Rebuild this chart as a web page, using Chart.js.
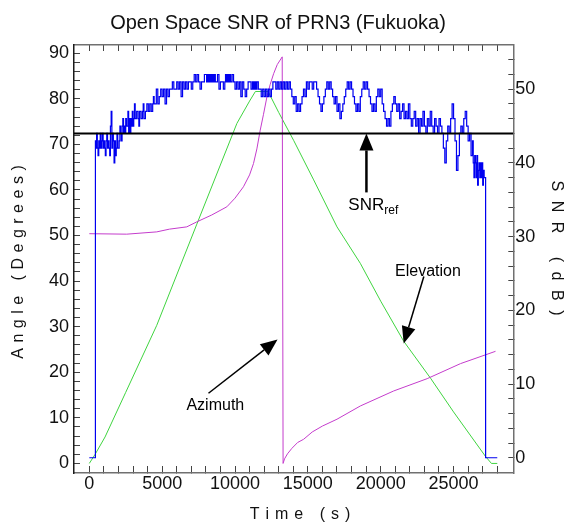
<!DOCTYPE html>
<html>
<head>
<meta charset="utf-8">
<script src="https://cdn.jsdelivr.net/npm/chart.js@4/dist/chart.umd.min.js"></script>
<style>
  html, body { margin: 0; padding: 0; background: #fff; }
  #wrap { width: 568px; height: 527px; }
</style>
</head>
<body>
<div id="wrap"><canvas id="c" width="568" height="527"></canvas></div>
<script>
// ---- data ----
const xTicks = [0, 5000, 10000, 15000, 20000, 25000];
const angleTicks = [0, 10, 20, 30, 40, 50, 60, 70, 80, 90];
const snrTicks = [0, 10, 20, 30, 40, 50];

// elevation (deg), left axis
const elevTime = [0, 400, 1080, 2500, 4630, 7380, 10130, 11000, 11400, 12270, 13000, 14020, 15400, 17000, 18600, 20000, 21580, 23420, 25000, 27200, 27600, 28000];
const elevDeg  = [0, 2, 5.8, 15.6, 30.3, 52.5, 74.6, 79.5, 81.6, 81.6, 77, 70.9, 62.2, 51.9, 43.9, 35.6, 26.8, 18.7, 11.3, 1.5, 0, 0];

// azimuth (deg), left axis
const aziTime = [0, 2570, 4630, 5500, 6690, 7380, 8400, 9440, 10000, 10580, 11000, 11270, 11500, 11730, 11950, 12190, 12420, 12650, 12900, 13240, 13300, 13400, 13600, 13900, 14300, 14710, 15300, 16000, 17000, 18600, 20890, 23190, 25480, 27880];
const aziDeg  = [50.4, 50.3, 50.8, 51.4, 51.9, 53.0, 54.5, 56.3, 58.2, 60.7, 63.3, 65.8, 69.0, 73.1, 76.5, 80.4, 83.2, 85.5, 87.5, 89.2, 0, 1.0, 2.1, 3.3, 4.6, 5.3, 6.9, 8.2, 9.7, 12.6, 15.9, 18.6, 21.9, 24.6];

// SNR (dB), right axis
const snrTime = [0, 400, 420, 450, 500, 550, 600, 650, 700, 750, 800, 850, 900, 950, 1000, 1050, 1100, 1150, 1200, 1250, 1300, 1350, 1400, 1450, 1500, 1550, 1600, 1650, 1700, 1750, 1800, 1850, 1900, 1950, 2000, 2050, 2100, 2150, 2200, 2250, 2300, 2350, 2400, 2450, 2500, 2550, 2600, 2650, 2700, 2750, 2800, 2850, 2900, 2950, 3000, 3050, 3100, 3150, 3200, 3250, 3300, 3350, 3400, 3450, 3500, 3550, 3600, 3650, 3700, 3750, 3800, 3850, 3900, 3950, 4000, 4050, 4100, 4150, 4200, 4250, 4300, 4350, 4400, 4450, 4500, 4600, 4700, 4800, 4900, 5000, 5100, 5200, 5300, 5400, 5500, 5600, 5700, 5800, 5900, 6000, 6100, 6200, 6300, 6400, 6500, 6600, 6700, 6800, 6900, 7000, 7100, 7200, 7300, 7400, 7500, 7600, 7700, 7800, 7900, 8000, 8050, 8100, 8150, 8200, 8250, 8300, 8350, 8400, 8450, 8500, 8550, 8600, 8650, 8700, 8800, 8900, 9000, 9100, 9200, 9300, 9350, 9400, 9450, 9500, 9550, 9600, 9650, 9700, 9800, 9900, 10000, 10100, 10200, 10300, 10400, 10500, 10600, 10700, 10800, 10900, 11000, 11100, 11200, 11250, 11300, 11350, 11400, 11450, 11500, 11600, 11700, 11800, 11900, 12000, 12100, 12200, 12300, 12400, 12500, 12600, 12700, 12800, 12900, 13000, 13100, 13200, 13300, 13400, 13500, 13600, 13700, 13800, 13900, 14000, 14100, 14200, 14300, 14400, 14500, 14600, 14700, 14800, 14900, 15000, 15100, 15200, 15300, 15400, 15500, 15600, 15700, 15800, 15900, 16000, 16100, 16200, 16300, 16400, 16500, 16600, 16700, 16800, 16900, 17000, 17100, 17200, 17300, 17400, 17500, 17600, 17700, 17800, 17900, 18000, 18100, 18200, 18300, 18400, 18500, 18600, 18700, 18800, 18900, 19000, 19100, 19200, 19300, 19400, 19500, 19600, 19700, 19800, 19900, 20000, 20100, 20200, 20300, 20400, 20500, 20600, 20700, 20800, 20900, 21000, 21100, 21200, 21300, 21400, 21500, 21600, 21700, 21800, 21900, 22000, 22100, 22200, 22300, 22400, 22500, 22600, 22700, 22800, 22900, 23000, 23100, 23200, 23300, 23400, 23500, 23600, 23700, 23800, 23900, 24000, 24100, 24200, 24300, 24400, 24500, 24600, 24700, 24800, 24900, 25000, 25100, 25200, 25300, 25400, 25500, 25600, 25700, 25800, 25900, 26000, 26100, 26200, 26300, 26350, 26400, 26450, 26500, 26550, 26600, 26650, 26700, 26750, 26800, 26850, 26900, 26950, 27000, 27050, 27100, 27200, 28000];
const snrDb = [0, 0, 43, 42, 44, 42, 41, 43, 42, 44, 42, 43, 44, 42, 43, 42, 41, 43, 44, 42, 43, 42, 41, 45, 47, 42, 44, 43, 40, 43, 41, 42, 44, 42, 42, 43, 45, 44, 43, 45, 46, 44, 45, 44, 46, 45, 45, 47, 44, 46, 44, 46, 45, 47, 45, 46, 48, 46, 46, 47, 47, 46, 45, 47, 47, 46, 46, 47, 48, 46, 46, 47, 47, 48, 48, 47, 47, 48, 48, 47, 47, 48, 49, 48, 48, 50, 48, 49, 50, 49, 50, 48, 50, 49, 50, 50, 51, 50, 50, 51, 50, 51, 49, 51, 50, 51, 50, 51, 51, 50, 51, 52, 51, 52, 51, 50, 51, 51, 52, 52, 51, 52, 51, 52, 51, 52, 51, 52, 51, 52, 51, 52, 51, 51, 52, 50, 51, 51, 50, 51, 52, 51, 52, 51, 52, 51, 52, 51, 52, 51, 50, 51, 50, 51, 49, 51, 50, 49, 50, 51, 51, 50, 51, 50, 51, 50, 51, 50, 51, 50, 50, 49, 50, 49, 50, 49, 50, 49, 50, 51, 51, 50, 51, 50, 51, 50, 51, 50, 51, 50, 51, 50, 49, 48, 49, 47, 48, 47, 48, 49, 50, 49, 51, 50, 51, 51, 50, 51, 51, 50, 49, 48, 47, 48, 49, 50, 51, 50, 51, 50, 49, 48, 49, 47, 48, 46, 47, 48, 49, 50, 51, 50, 51, 50, 49, 48, 47, 48, 47, 49, 50, 51, 50, 51, 50, 49, 48, 47, 48, 47, 49, 50, 49, 50, 48, 47, 46, 45, 46, 45, 47, 48, 49, 48, 47, 48, 46, 47, 48, 46, 47, 46, 48, 46, 45, 46, 47, 45, 46, 44, 46, 45, 47, 45, 44, 46, 45, 47, 45, 44, 46, 45, 44, 46, 45, 44, 42, 40, 43, 45, 44, 46, 48, 46, 43, 39, 41, 44, 45, 44, 46, 47, 45, 43, 44, 41, 43, 40, 38, 41, 40, 38, 41, 37, 39, 40, 38, 40, 38, 40, 37, 39, 38, 0, 0];

// reference level SNRref (dB)
const refTime = [-1050, 29100];
const refDb = [44, 44];

// ---- layout ----
const FONT = "'Liberation Sans', Arial, Helvetica, sans-serif";
const AREA = { left: 74, right: 513.3, top: 45, bottom: 473 };
const W = 568, H = 527;

const pts = (xs, ys) => xs.map((x, i) => ({ x, y: ys[i] }));
const steps = (a, b, d) => { const r = []; for (let v = a; v <= b; v += d) r.push({ value: v }); return r; };

// text with extra letter spacing, centred on (cx, cy)
function spaced(ctx, text, cx, cy, gap) {
  const ws = [...text].map(ch => ctx.measureText(ch).width);
  const total = ws.reduce((a, b) => a + b, 0) + gap * (ws.length - 1);
  let x = cx - total / 2;
  ctx.textAlign = 'left';
  ctx.textBaseline = 'middle';
  [...text].forEach((ch, i) => { ctx.fillText(ch, x, cy); x += ws[i] + gap; });
}

function arrow(ctx, x1, y1, x2, y2, lw) {
  const a = Math.atan2(y2 - y1, x2 - x1);
  const hl = 17, hw = 7;
  const bx = x2 - hl * Math.cos(a), by = y2 - hl * Math.sin(a);
  ctx.lineWidth = lw;
  ctx.beginPath(); ctx.moveTo(x1, y1); ctx.lineTo(bx, by); ctx.stroke();
  ctx.beginPath();
  ctx.moveTo(x2, y2);
  ctx.lineTo(bx + hw * Math.sin(a), by - hw * Math.cos(a));
  ctx.lineTo(bx - hw * Math.sin(a), by + hw * Math.cos(a));
  ctx.closePath(); ctx.fill();
}

// annotations and titles
const notes = {
  id: 'notes',
  afterDraw(chart) {
    const ctx = chart.ctx;
    const x = chart.scales.x, yL = chart.scales.yL, yR = chart.scales.yR;
    ctx.save();
    ctx.fillStyle = '#000';
    ctx.strokeStyle = '#000';

    const sx = x.getPixelForValue(19020);
    arrow(ctx, sx, yR.getPixelForValue(36), sx, yR.getPixelForValue(44), 2.5);
    ctx.font = '17px ' + FONT;
    ctx.textAlign = 'left';
    ctx.textBaseline = 'alphabetic';
    const lx = x.getPixelForValue(17780), ly = yR.getPixelForValue(33.6);
    ctx.fillText('SNR', lx, ly);
    const sw = ctx.measureText('SNR').width;
    ctx.font = '12px ' + FONT;
    ctx.fillText('ref', lx + sw, ly + 4);

    arrow(ctx, x.getPixelForValue(22960), yL.getPixelForValue(41), x.getPixelForValue(21580), yL.getPixelForValue(26.3), 1.5);
    ctx.font = '16px ' + FONT;
    ctx.textAlign = 'center';
    ctx.fillText('Elevation', x.getPixelForValue(23240), yL.getPixelForValue(41.1));

    arrow(ctx, x.getPixelForValue(8180), yL.getPixelForValue(15.4), x.getPixelForValue(12920), yL.getPixelForValue(27.2), 1.5);
    ctx.fillText('Azimuth', x.getPixelForValue(8650), yL.getPixelForValue(11.7));

    ctx.fillStyle = '#111';
    ctx.font = '20px ' + FONT;
    ctx.textAlign = 'center';
    ctx.textBaseline = 'middle';
    ctx.fillText('Open Space SNR of PRN3 (Fukuoka)', 278, 23);

    ctx.font = '16px ' + FONT;
    spaced(ctx, 'Time (s)', 300, 515, 6);

    ctx.save();
    ctx.translate(19, 262);
    ctx.rotate(-Math.PI / 2);
    spaced(ctx, 'Angle (Degrees)', 0, 0, 5.5);
    ctx.restore();

    ctx.save();
    ctx.translate(556, 248);
    ctx.rotate(Math.PI / 2);
    spaced(ctx, 'SNR (dB)', 0, 0, 9.5);
    ctx.restore();
    ctx.restore();
  }
};

const tickFont = { family: FONT, size: 18 };
// inward tick marks: negative tick length, no grid lines across the plot
const inward = (len, color) => ({ display: true, drawOnChartArea: false, drawTicks: true, tickLength: -len, color, lineWidth: 1 });

new Chart(document.getElementById('c'), {
  type: 'line',
  data: {
    datasets: [
      { label: 'SNRref', data: pts(refTime, refDb), yAxisID: 'yR', borderColor: '#000', borderWidth: 2, pointRadius: 0, order: 0 },
      { label: 'SNR', data: pts(snrTime, snrDb), yAxisID: 'yR', borderColor: '#0000f0', borderWidth: 1.2, pointRadius: 0, stepped: true, order: 1 },
      { label: 'Azimuth', data: pts(aziTime, aziDeg), yAxisID: 'yL', borderColor: '#c43ccc', borderWidth: 1, pointRadius: 0, order: 2 },
      { label: 'Elevation', data: pts(elevTime, elevDeg), yAxisID: 'yL', borderColor: '#3fd43f', borderWidth: 1, pointRadius: 0, order: 3 }
    ]
  },
  options: {
    responsive: false,
    animation: false,
    events: [],
    layout: { padding: 0 },
    plugins: { legend: { display: false }, title: { display: false }, tooltip: { enabled: false } },
    scales: {
      x: {
        type: 'linear', position: 'bottom', min: -1050, max: 29100,
        afterBuildTicks: s => { s.ticks = steps(0, 28000, 1000); },
        afterFit: s => { s.height = H - AREA.bottom; },
        grid: inward(7, '#444'),
        border: { display: true, color: '#707070', width: 1.5 },
        ticks: { font: tickFont, color: '#111', padding: 7, maxRotation: 0, autoSkip: false,
                 callback: v => xTicks.includes(v) ? String(v) : '' }
      },
      xTop: {
        type: 'linear', position: 'top', min: -1050, max: 29100,
        afterBuildTicks: s => { s.ticks = steps(0, 28000, 1000); },
        afterFit: s => { s.height = AREA.top; },
        grid: inward(6, '#444'),
        border: { display: true, color: '#707070', width: 1.5 },
        ticks: { autoSkip: false, maxRotation: 0, callback: () => '' }
      },
      yL: {
        type: 'linear', position: 'left', min: -2.1, max: 91.8,
        afterBuildTicks: s => { s.ticks = steps(0, 90, 2); },
        afterFit: s => { s.width = AREA.left; },
        grid: inward(6, '#444'),
        border: { display: true, color: '#1a1a1a', width: 1.5 },
        ticks: { font: tickFont, color: '#111', padding: 11, autoSkip: false,
                 callback: v => angleTicks.includes(v) ? String(v) : '' }
      },
      yR: {
        type: 'linear', position: 'right', min: -2.07, max: 56,
        afterBuildTicks: s => { s.ticks = steps(0, 54, 2); },
        afterFit: s => { s.width = W - AREA.right; },
        grid: inward(5, '#444'),
        border: { display: true, color: '#707070', width: 1.5 },
        ticks: { font: tickFont, color: '#111', padding: 7, autoSkip: false,
                 callback: v => snrTicks.includes(v) ? String(v) : '' }
      }
    }
  },
  plugins: [notes]
});
</script>
</body>
</html>
